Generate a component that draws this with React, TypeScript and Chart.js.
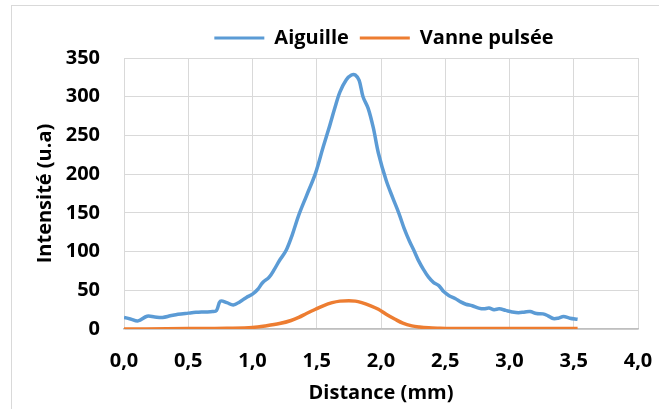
import React, { useEffect, useRef } from "react";
import { Chart, registerables } from "chart.js";

Chart.register(...registerables);

const seriesNames = ["Aiguille", "Vanne pulsée"];
const xTitle = "Distance (mm)";
const yTitle = "Intensité (u.a)";
const xTickValues = [0, 0.5, 1.0, 1.5, 2.0, 2.5, 3.0, 3.5, 4.0];
const yTickValues = [0, 50, 100, 150, 200, 250, 300, 350];

const distAiguille = [
  0.0, 0.05, 0.11, 0.18, 0.24, 0.3, 0.36, 0.42, 0.5, 0.56, 0.63, 0.69, 0.72, 0.75, 0.8, 0.85, 0.9, 0.95,
  1.0, 1.04, 1.08, 1.13, 1.17, 1.21, 1.26, 1.31, 1.36, 1.42, 1.49, 1.55, 1.6, 1.64, 1.68, 1.73, 1.77,
  1.8, 1.83, 1.86, 1.9, 1.94, 1.98, 2.04, 2.09, 2.14, 2.18, 2.22, 2.26, 2.29, 2.33, 2.37, 2.41, 2.45,
  2.49, 2.53, 2.58, 2.62, 2.66, 2.71, 2.76, 2.8, 2.84, 2.88, 2.92, 2.97, 3.02, 3.07, 3.12, 3.16, 3.21,
  3.26, 3.3, 3.34, 3.38, 3.42, 3.47, 3.53,
];
const intAiguille = [
  15, 13, 10.5, 16.5, 15.5, 15, 17, 19, 20.5, 21.5, 22, 22.5, 24, 36, 34, 31, 35, 40.5,
  45, 51, 60, 67, 77, 88.5, 101, 122, 147, 172, 201, 235, 262, 285, 306, 322, 328,
  328, 321, 300, 285, 260, 227, 192, 170, 149, 130, 114, 100, 89, 77, 67, 60, 56,
  48, 43, 39, 35, 32, 30, 27, 26, 27, 25, 26, 24, 22, 21, 22, 22.5, 20,
  19.5, 17, 13.5, 14, 16, 14, 12.5,
];

const distVanne = [
  0.0, 0.5, 0.8, 1.0, 1.1, 1.21, 1.3, 1.36, 1.42, 1.49, 1.55, 1.62, 1.68, 1.75, 1.8, 1.85, 1.92, 1.98,
  2.04, 2.11, 2.17, 2.24, 2.3, 2.37, 2.45, 2.6, 3.0, 3.53,
];
const intVanne = [
  0, 0.5, 1, 2, 4, 7, 11, 15, 20, 25.5, 30, 34, 36, 36.5, 36, 34, 30, 25.5,
  19, 12.5, 7.5, 4, 2.5, 1.5, 1, 0.5, 0.5, 0.5,
];

const colors = ["#5b9bd5", "#ed7d31"];
const FONT = "'Open Sans', 'DejaVu Sans', sans-serif";

const legendShift = {
  id: "legendShift",
  beforeDraw(chart: any) {
    const l = chart.legend;
    const ca = chart.chartArea;
    if (l && ca) {
      l.left = ca.left + 3;
      l.right = ca.right + 3;
      l.width = ca.right - ca.left;
    }
  },
};

export default function App() {
  const ref = useRef<HTMLCanvasElement | null>(null);
  useEffect(() => {
    if (!ref.current) return;
    const toPts = (xs: number[], ys: number[]) => xs.map((x, i) => ({ x, y: ys[i] }));
    const chart = new Chart(ref.current, {
      type: "line",
      data: {
        datasets: [
          {
            label: seriesNames[0],
            data: toPts(distAiguille, intAiguille),
            borderColor: colors[0],
            backgroundColor: colors[0],
            borderWidth: 3.5,
            pointRadius: 0,
            tension: 0.35,
          },
          {
            label: seriesNames[1],
            data: toPts(distVanne, intVanne),
            borderColor: colors[1],
            backgroundColor: colors[1],
            borderWidth: 3.5,
            pointRadius: 0,
            cubicInterpolationMode: "monotone",
          },
        ],
      },
      options: {
        responsive: false,
        animation: false,
        layout: { padding: { left: 0, right: 21, top: 17, bottom: 0 } },
        plugins: {
          tooltip: { enabled: false },
          legend: {
            display: true,
            position: "top",
            align: "center",
            labels: {
              boxWidth: 50,
              boxHeight: 3,
              padding: 11,
              color: "#000",
              font: { family: FONT, size: 20, weight: "bold" },
              generateLabels: (chart: any) =>
                chart.data.datasets.map((ds: any, i: number) => ({
                  text: ds.label,
                  fillStyle: ds.borderColor,
                  strokeStyle: ds.borderColor,
                  lineWidth: 0,
                  datasetIndex: i,
                  fontColor: "#000",
                })),
            },
          },
        },
        scales: {
          x: {
            type: "linear",
            min: 0,
            max: 4,
            afterBuildTicks: (s: any) => {
              s.ticks = xTickValues.map((v) => ({ value: v }));
            },
            afterFit: (s: any) => {
              s.height = 80;
              s.paddingLeft = 0;
              s.paddingRight = 0;
            },
            ticks: {
              padding: 20,
              color: "#000",
              font: { family: FONT, size: 20, weight: "bold" },
              callback: (v: any) => Number(v).toFixed(1).replace(".", ","),
              maxRotation: 0,
              autoSkip: false,
            },
            grid: { color: "#d9d9d9", lineWidth: 1, drawTicks: false },
            border: { color: "#bfbfbf", width: 1.5 },
            title: {
              display: true,
              text: xTitle,
              color: "#000",
              font: { family: FONT, size: 20, weight: "bold" },
              padding: { top: 0, bottom: 4 },
            },
          },
          y: {
            type: "linear",
            min: 0,
            max: 350,
            afterBuildTicks: (s: any) => {
              s.ticks = yTickValues.map((v) => ({ value: v }));
            },
            afterFit: (s: any) => {
              s.width = 124;
            },
            ticks: {
              padding: 24,
              color: "#000",
              font: { family: FONT, size: 20, weight: "bold" },
              autoSkip: false,
            },
            grid: { color: "#d9d9d9", lineWidth: 1, drawTicks: false },
            border: { color: "#d9d9d9", width: 1 },
            title: {
              display: true,
              text: yTitle,
              color: "#000",
              font: { family: FONT, size: 20, weight: "bold" },
              padding: { top: 33, bottom: 0 },
            },
          },
        },
      },
      plugins: [legendShift],
    } as any);
    return () => chart.destroy();
  }, []);

  return (
    <div style={{ position: "absolute", left: 0, top: 0, width: 659, height: 409, background: "#fff", overflow: "hidden" }}>
      <div
        style={{
          position: "absolute",
          left: 11,
          top: 5,
          width: 700,
          height: 500,
          borderLeft: "1px solid #d9d9d9",
          borderTop: "1px solid #d9d9d9",
        }}
      />
      <canvas ref={ref} width={659} height={409} style={{ position: "absolute", left: 0, top: 0 }} />
    </div>
  );
}
